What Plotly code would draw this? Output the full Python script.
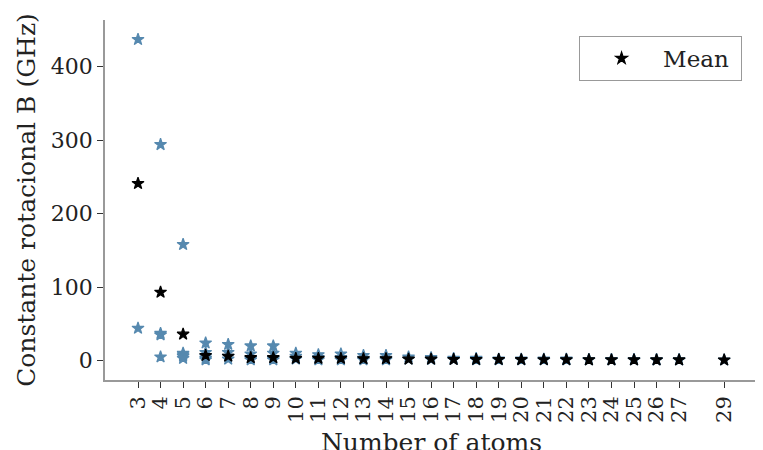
import plotly.graph_objects as go

# individual molecules: number of atoms and rotational constant B (GHz)
atoms_ind = [3, 3,
             4, 4, 4, 4,
             5, 5, 5, 5, 5,
             6, 6, 6, 6, 6,
             7, 7, 7, 7,
             8, 8, 8, 8,
             9, 9, 9, 9,
             10, 10, 10,
             11, 11, 11,
             12, 12, 12,
             13, 13, 13,
             14, 14, 14,
             15, 15,
             16, 16,
             17, 17,
             18, 18,
             19, 19, 20, 20, 21, 21, 22, 22, 23, 23, 24, 24, 25, 25, 26, 26, 27, 27,
             29]
b_ind = [437, 44,
         294, 37, 35, 5,
         158, 10, 8, 6, 3,
         24, 11, 6, 3, 1,
         22, 11, 6, 2,
         20, 9, 3, 1,
         20, 10, 3, 1,
         10, 6, 2,
         8, 4, 1,
         9, 4, 1,
         7, 3, 1,
         7, 3, 1,
         5, 2,
         4, 1.5,
         3, 1.5,
         3, 1,
         2, 1, 2, 1, 2, 1, 2, 1, 1.5, 1, 1.5, 1, 1.5, 0.8, 1.2, 0.8, 1.2, 0.8,
         0.8]

# mean per number of atoms
atoms_mean = [3, 4, 5, 6, 7, 8, 9, 10, 11, 12, 13, 14, 15, 16, 17, 18, 19, 20, 21, 22, 23, 24, 25, 26, 27, 29]
b_mean = [241, 93, 36, 7, 6, 4, 4, 3, 3, 3, 2.5, 2.5, 2, 2, 1.5, 1.5, 1.5, 1.3, 1.2, 1.2, 1.1, 1.0, 1.0, 1.0, 1.0, 0.8]

tick_vals = [3, 4, 5, 6, 7, 8, 9, 10, 11, 12, 13, 14, 15, 16, 17, 18, 19, 20, 21, 22, 23, 24, 25, 26, 27, 29]
y_ticks = [0, 100, 200, 300, 400]

FONT = "DejaVu Serif"
BLUE = "rgb(86,137,175)"

fig = go.Figure()
fig.add_trace(go.Scatter(
    x=atoms_ind, y=b_ind, mode="markers", showlegend=False,
    marker=dict(symbol="star", size=9, color=BLUE, line=dict(width=1.2, color=BLUE)),
))
fig.add_trace(go.Scatter(
    x=atoms_mean, y=b_mean, mode="markers", name="Mean\u00a0",
    marker=dict(symbol="star", size=9, color="black", line=dict(width=1.2, color="black")),
))

fig.update_layout(
    width=763, height=450,
    margin=dict(l=97, r=13, t=12, b=78, autoexpand=False),
    paper_bgcolor="white", plot_bgcolor="white",
    font=dict(family=FONT, size=22, color="#222"),
    legend=dict(x=0.726, y=0.956, xanchor="left", yanchor="top",
                bordercolor="#999", borderwidth=1, bgcolor="white",
                font=dict(family=FONT, size=23), itemwidth=73),
    xaxis=dict(
        range=[1.536, 30.5], tickmode="array", tickvals=tick_vals,
        ticktext=[str(v) for v in tick_vals], tickangle=-90,
        showgrid=False, zeroline=False, showline=True, linecolor="#999", linewidth=1.5,
        ticks="outside", ticklen=6, tickcolor="#333", tickwidth=1,
        tickfont=dict(size=21),
        title=dict(text="Number of atoms", standoff=12, font=dict(size=25)),
        automargin=False,
    ),
    yaxis=dict(
        range=[-26.4, 463.5], tickmode="array", tickvals=y_ticks,
        showgrid=False, zeroline=False, showline=True, linecolor="#999", linewidth=1.5,
        ticks="outside", ticklen=6, tickcolor="#333", tickwidth=1,
        tickfont=dict(size=22),
        title=dict(text="Constante rotacional B (GHz)", standoff=8, font=dict(size=25)),
        automargin=False,
    ),
)

fig.write_html("out.html")
